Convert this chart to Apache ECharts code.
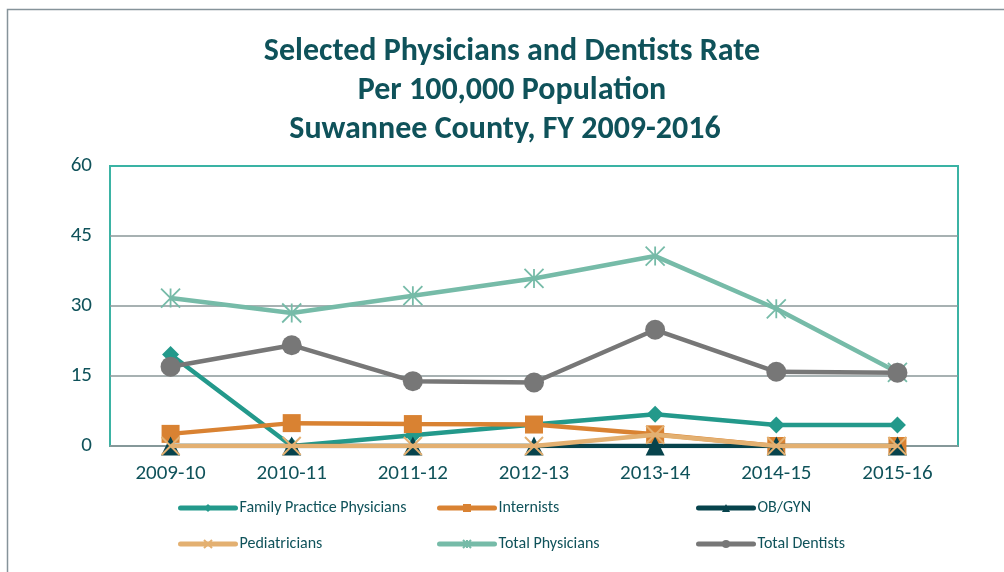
<!DOCTYPE html>
<html>
<head>
<meta charset="utf-8">
<script src="https://cdn.jsdelivr.net/npm/echarts@6/dist/echarts.min.js"></script>
<style>
  html, body { margin: 0; padding: 0; background: #fff; }
  #chart { width: 1004px; height: 572px; }
</style>
</head>
<body>
<div id="chart"></div>
<script>
var years = ['2009-10', '2010-11', '2011-12', '2012-13', '2013-14', '2014-15', '2015-16']
var yTicks = [0, 15, 30, 45, 60]
var familyPractice = [19.6, 0, 2.3, 4.6, 6.8, 4.5, 4.5]
var internists = [2.6, 4.9, 4.7, 4.6, 2.5, 0, 0]
var obGyn = [0, 0, 0, 0, 0, 0, 0]
var pediatricians = [0, 0, 0, 0, 2.4, 0, 0]
var totalPhysicians = [31.7, 28.5, 32.2, 35.9, 40.7, 29.4, 15.8]
var totalDentists = [17.0, 21.6, 13.9, 13.6, 24.9, 15.9, 15.7]

var textColor = '#0f525a'
var fontFamily = 'Carlito, Lato, sans-serif'

var chart = echarts.init(document.getElementById('chart'))

function lineSeries(name, data, color, symbol, size, z, extra) {
  var s = {
    name: name,
    type: 'line',
    data: data,
    z: z,
    symbol: symbol,
    symbolSize: size,
    lineStyle: { color: color, width: 4.5 },
    itemStyle: { color: color }
  }
  if (extra) {
    s.itemStyle = extra
  }
  return s
}

var legendBase = {
  orient: 'vertical', top: 500, padding: 0,
  itemWidth: 55, itemHeight: 10, itemGap: 20,
  lineStyle: { width: 5, cap: 'round' },
  textStyle: { color: textColor, fontSize: 16, fontFamily: fontFamily, padding: [0, 0, 0, -1] }
}

chart.setOption({
  animation: false,
  textStyle: { fontFamily: fontFamily },
  graphic: [
    {
      type: 'rect',
      shape: { x: 7.5, y: 9.5, width: 1100, height: 700 },
      style: { fill: 'none', stroke: '#86939a', lineWidth: 1.5 },
      silent: true
    },
    {
      type: 'text', x: 512, y: 52,
      style: { text: 'Selected Physicians and Dentists Rate', fill: textColor, font: 'bold 32px ' + fontFamily, textAlign: 'center', textVerticalAlign: 'middle' }
    },
    {
      type: 'text', x: 512, y: 91,
      style: { text: 'Per 100,000 Population', fill: textColor, font: 'bold 32px ' + fontFamily, textAlign: 'center', textVerticalAlign: 'middle' }
    },
    {
      type: 'text', x: 505, y: 130,
      style: { text: 'Suwannee County, FY 2009-2016', fill: textColor, font: 'bold 32px ' + fontFamily, textAlign: 'center', textVerticalAlign: 'middle' }
    }
  ],
  legend: [
    Object.assign({}, legendBase, { left: 178, data: ['Family Practice Physicians', 'Pediatricians'] }),
    Object.assign({}, legendBase, { left: 437, data: ['Internists', 'Total Physicians'] }),
    Object.assign({}, legendBase, { left: 696, data: ['OB/GYN', 'Total Dentists'] })
  ],
  grid: {
    left: 110, right: 46, top: 166, bottom: 126,
    show: true, borderColor: '#3bb3a4', borderWidth: 2
  },
  xAxis: {
    type: 'category',
    data: years,
    boundaryGap: true,
    axisTick: { show: false },
    axisLine: { lineStyle: { color: '#8a9799', width: 1.5 } },
    axisLabel: { color: textColor, fontSize: 21, margin: 17, fontFamily: fontFamily }
  },
  yAxis: {
    type: 'value',
    min: yTicks[0],
    max: yTicks[yTicks.length - 1],
    interval: 15,
    axisLine: { show: false },
    axisTick: { show: false },
    axisLabel: { color: textColor, fontSize: 21, margin: 18, fontFamily: fontFamily },
    splitLine: { lineStyle: { color: ['#8a9799', '#8a9799', '#8a9799', '#8a9799', '#3bb3a4'], width: 1.5 } }
  },
  series: [
    lineSeries('Family Practice Physicians', familyPractice, '#23998b', 'diamond', 17, 2),
    lineSeries('Internists', internists, '#d98232', 'rect', 18, 3),
    lineSeries('OB/GYN', obGyn, '#07434c', 'triangle', 19, 4),
    lineSeries('Pediatricians', pediatricians, '#e3b071', 'path://M0,0L20,20M20,0L0,20', 18, 5,
      { color: 'transparent', borderColor: '#e3b071', borderWidth: 2 }),
    lineSeries('Total Physicians', totalPhysicians, '#76bba8', 'path://M0,0L20,20M20,0L0,20M10,0L10,20', 19, 6,
      { color: 'transparent', borderColor: '#76bba8', borderWidth: 1.8 }),
    lineSeries('Total Dentists', totalDentists, '#777777', 'circle', 20, 7)
  ]
})
</script>
</body>
</html>
